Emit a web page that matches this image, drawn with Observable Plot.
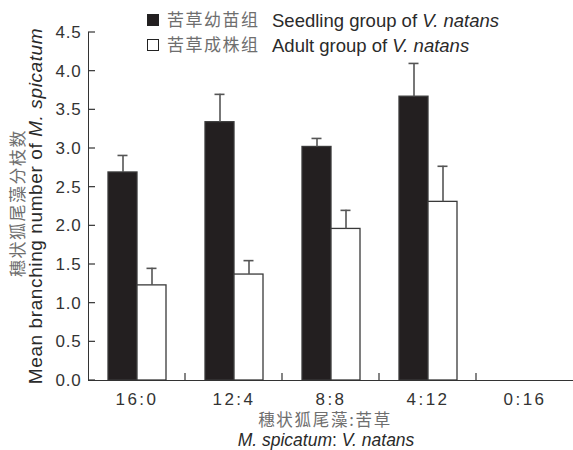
<!DOCTYPE html>
<html>
<head>
<meta charset="utf-8">
<script src="https://cdn.jsdelivr.net/npm/d3@7"></script>
<script src="https://cdn.jsdelivr.net/npm/@observablehq/plot@0.6"></script>
<style>
  html, body { margin: 0; padding: 0; background: #fff; }
  #wrap { position: relative; width: 573px; height: 450px; overflow: hidden; font-family: "Liberation Sans", Arial, sans-serif; color: #2a2a2a; }
  #wrap svg { position: absolute; left: 0; top: 0; }
  .abs { position: absolute; white-space: nowrap; line-height: 1.15; }
  .zh { font-family: "Noto Sans CJK SC", sans-serif; color: #6e6e6e; }
  .sq { position: absolute; width: 12px; height: 12px; box-sizing: border-box; border: 1.5px solid #222; }
  svg g[aria-label^="fx-axis"] text { letter-spacing: 2.5px; }
  svg g[aria-label^="y-axis"] text { letter-spacing: 0.8px; }
</style>
</head>
<body>
<div id="wrap">
  <div class="sq" style="left:147px;top:14px;background:#231f20;"></div>
  <div class="abs zh" style="left:167px;top:9px;font-size:17px;letter-spacing:1.5px;">苦草幼苗组</div>
  <div class="abs" style="left:272px;top:10px;font-size:18.5px;">Seedling group of <i>V. natans</i></div>
  <div class="sq" style="left:147px;top:39px;background:#fff;"></div>
  <div class="abs zh" style="left:167px;top:34px;font-size:17px;letter-spacing:1.5px;">苦草成株组</div>
  <div class="abs" style="left:272px;top:35px;font-size:18.5px;">Adult group of <i>V. natans</i></div>

  <div class="abs zh" style="left:16px;top:203px;font-size:17px;letter-spacing:1.5px;line-height:1;transform:translate(-50%,-50%) rotate(-90deg);">穗状狐尾藻分枝数</div>
  <div class="abs" style="left:35px;top:206px;font-size:19px;letter-spacing:0.6px;line-height:1;transform:translate(-50%,-50%) rotate(-90deg);">Mean branching number of <i>M. spicatum</i></div>

  <div class="abs zh" style="left:325px;top:419px;font-size:16.5px;letter-spacing:1.7px;line-height:1;transform:translate(-50%,-50%);">穗状狐尾藻:苦草</div>
  <div class="abs" style="left:326px;top:440.5px;font-size:17.5px;line-height:1;transform:translate(-50%,-50%);"><i>M. spicatum</i>: <i>V. natans</i></div>
</div>
<script>
const ratios = ["16:0", "12:4", "8:8", "4:12", "0:16"];
const groups = ["Seedling", "Adult"];
const seedlingMean = [2.69, 3.34, 3.02, 3.67, null];
const seedlingErr  = [0.22, 0.36, 0.11, 0.43, null];
const adultMean    = [1.23, 1.37, 1.96, 2.31, null];
const adultErr     = [0.22, 0.18, 0.24, 0.46, null];
const yTicks = [0, 0.5, 1.0, 1.5, 2.0, 2.5, 3.0, 3.5, 4.0, 4.5];

const rows = ratios.flatMap((r, i) => [
  {ratio: r, group: "Seedling", mean: seedlingMean[i], err: seedlingErr[i]},
  {ratio: r, group: "Adult", mean: adultMean[i], err: adultErr[i]}
]);
const errTop = d => (d.mean == null ? null : d.mean + d.err);

const chart = Plot.plot({
  width: 573,
  height: 450,
  marginLeft: 88,
  marginRight: 0,
  marginTop: 32,
  marginBottom: 70,
  facet: {data: rows, x: "ratio"},
  fx: {domain: ratios, padding: 0, label: null, axis: "bottom", tickSize: 0, tickPadding: 12},
  x: {domain: groups, paddingInner: 0, paddingOuter: 0.67, axis: null},
  y: {domain: [0, 4.5], ticks: yTicks, tickFormat: d3.format(".1f"), tickSize: 0, tickPadding: 7, label: null, line: true},
  color: {domain: groups, range: ["#231f20", "#ffffff"]},
  style: {fontFamily: "'Liberation Sans', Arial, sans-serif", fontSize: "17px", color: "#333", background: "transparent", overflow: "visible"},
  marks: [
    Plot.barY(rows, {x: "group", y: "mean", fill: "group", stroke: "#3a3a3a", strokeWidth: 1.3}),
    Plot.ruleX(rows, {x: "group", y1: "mean", y2: errTop, stroke: "#555", strokeWidth: 1.6}),
    Plot.tickY(rows, {x: "group", y: errTop, stroke: "#555", strokeWidth: 1.6, insetLeft: 9.5, insetRight: 9.5}),
    Plot.ruleY([0], {stroke: "#333", strokeWidth: 1.2})
  ]
});
document.getElementById("wrap").prepend(chart);

// inward y ticks and in-between group ticks, positioned with Plot's own scales
const ys = chart.scale("y");
const fxs = chart.scale("fx");
const yApply = ys.apply ? ys.apply : d3.scaleLinear(ys.domain, ys.range);
const fxApply = fxs.apply ? fxs.apply : d3.scaleBand(fxs.domain, fxs.range).padding(0);
const x0 = Math.min(...fxs.range);
const g = d3.select(chart).append("g").attr("stroke", "#333").attr("stroke-width", 1.2);
g.selectAll("line.yt").data(yTicks).join("line")
  .attr("x1", x0).attr("x2", x0 + 7)
  .attr("y1", d => yApply(d)).attr("y2", d => yApply(d));
g.selectAll("line.xt").data(ratios.slice(1)).join("line")
  .attr("x1", d => fxApply(d)).attr("x2", d => fxApply(d))
  .attr("y1", yApply(0)).attr("y2", yApply(0) - 7);
</script>
</body>
</html>
